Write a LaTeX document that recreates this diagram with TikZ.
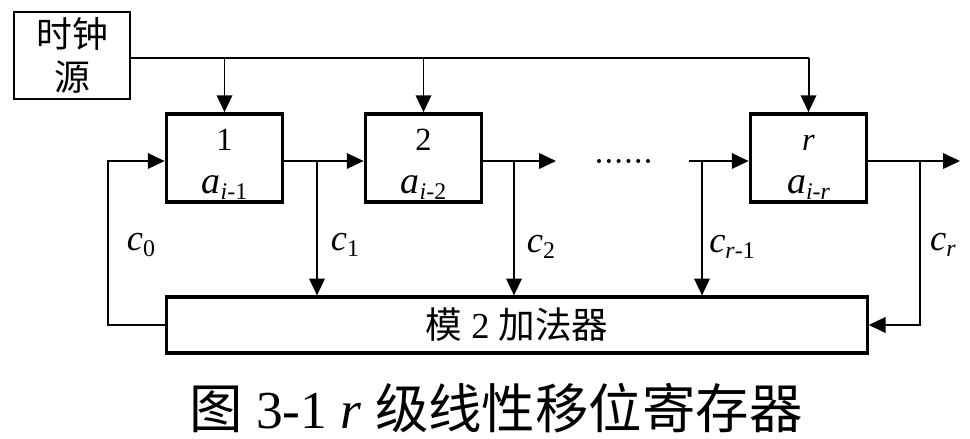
\documentclass[tikz,border=0pt]{standalone}
\usepackage{fontspec}
\setmainfont{Liberation Serif}
\newfontfamily\cjk{Noto Sans CJK SC}
\usetikzlibrary{arrows.meta,positioning,calc}
\newcommand\lsub[1]{\raisebox{-0.15em}{\fontsize{17}{18}\selectfont #1}}
\newcommand\regtxt[2]{\rule{0pt}{24pt}{\fontsize{23}{24}\selectfont #1}\\\textit{a}\lsub{#2}}
\tikzset{
 reg/.style={draw,line width=2.6pt,minimum width=2.9cm,minimum height=2.2cm,align=center,inner sep=0pt,font=\fontsize{27}{31}\selectfont},
 wire/.style={line width=1.4pt},
 arr/.style={wire,-{Triangle[length=12pt,width=11pt]}},
 coef/.style={font=\fontsize{26}{28}\selectfont},
}

\begin{document}
\begin{tikzpicture}[x=0.025cm,y=-0.025cm]
\useasboundingbox (0,0) rectangle (970,439);
\node[draw,line width=2pt,minimum width=2.9cm,minimum height=2.175cm,align=center,font=\cjk\fontsize{25.5}{30}\selectfont] (clk) at (72,55.5) {时钟\\源};
\node[reg] (reg1) at (224.5,158) {\regtxt{1}{\textit{i}-1}};
\node[reg] (reg2) at (423.5,158) {\regtxt{2}{\textit{i}-2}};
\node[reg] (regr) at (808.5,158) {\regtxt{\textit{r}}{\textit{i}-\textit{r}}};
\node[draw,line width=2.2pt,minimum width=17.5cm,minimum height=1.4cm,font=\fontsize{26}{28}\selectfont] (add) at (517,325) {{\cjk 模} 2 {\cjk 加法器}};
\coordinate (bus) at (130,58);
\coordinate (fb) at (108,161);
\coordinate (t1) at (317,161);
\coordinate (t2) at (514,161);
\coordinate (o2) at (556,161);
\coordinate (ir) at (689,161);
\coordinate (t3) at (702,161);
\coordinate (tr) at (920,161);
\coordinate (or) at (960,161);
\draw[wire] (bus) -- (bus -| regr.north);
\foreach \r in {reg1,reg2,regr}{\draw[arr] (bus -| \r.north) -- (\r.north);}
\draw[arr] (add.west) -| (fb) -- (fb -| reg1.west);
\draw[arr] (reg1.east |- fb) -- (reg2.west |- fb);
\draw[arr] (reg2.east |- fb) -- (o2);
\draw[arr] (ir) -- (regr.west |- ir);
\draw[arr] (regr.east |- or) -- (or);
\foreach \t in {t1,t2,t3}{\draw[arr] (\t) -- (\t |- add.north);}
\draw[arr] (tr) |- (add.east);
\foreach \i in {0,...,5}{\fill (599+\i*9.8,161) circle (2);}
\node[coef] (c0) at (141,245) {\textit{c}\lsub{0}};
\node[coef] (c1) at (345,245) {\textit{c}\lsub{1}};
\node[coef] (c2) at (541,247) {\textit{c}\lsub{2}};
\node[coef] (c3) at (732,247) {\textit{c}\lsub{\textit{r}-1}};
\node[coef] (c4) at (943,245) {\textit{c}\lsub{\textit{r}}};
\node[font=\fontsize{38}{40}\selectfont] (cap) at (496,408) {{\cjk 图} 3-1 \textit{r} {\cjk 级线性移位寄存器}};
\end{tikzpicture}
\end{document}
